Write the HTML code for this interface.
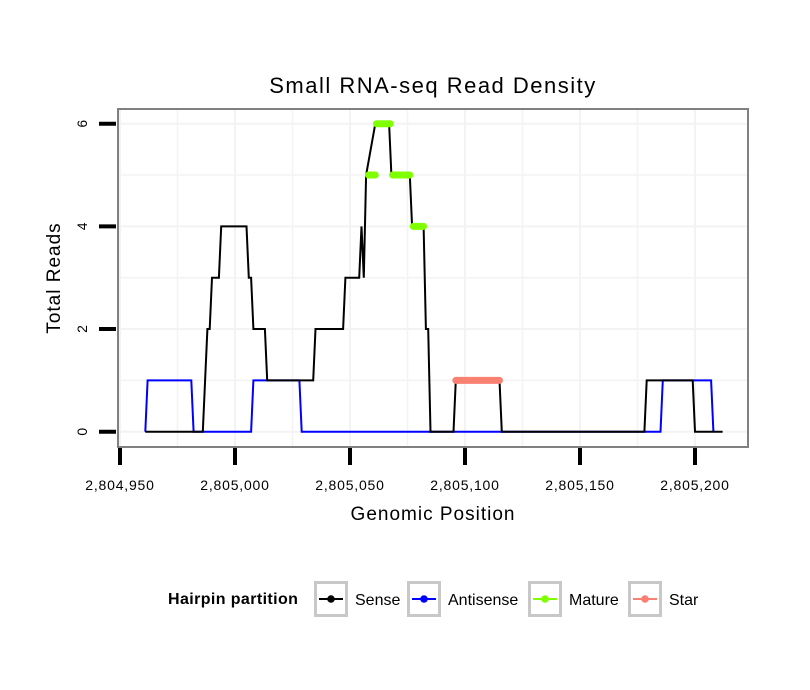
<!DOCTYPE html>
<html><head><meta charset="utf-8"><style>
body{margin:0;background:#fff;}
svg{display:block;font-family:"Liberation Sans",sans-serif;}
</style></head><body>
<svg id="chart" width="810" height="690">
<rect width="810" height="690" fill="#fff"/>
<text x="433" y="93" font-size="22" letter-spacing="1.5" text-anchor="middle">Small RNA-seq Read Density</text>
<g id="grid"></g>
<g id="series"></g>
<rect x="118" y="109" width="630" height="338" fill="none" stroke="#808080" stroke-width="2"/>
<g id="axes"></g>
<text x="433" y="520" font-size="19" letter-spacing="1" text-anchor="middle">Genomic Position</text>
<text transform="translate(60,278) rotate(-90)" font-size="19" letter-spacing="1" text-anchor="middle">Total Reads</text>
<g id="legend"></g>
</svg>
<script>
const senseX=[2804961,2804986,2804988,2804989,2804990,2804993,2804994,2805005,2805006,2805007,2805008,2805013,2805014,2805034,2805035,2805047,2805048,2805054,2805055,2805056,2805057,2805061,2805067,2805068,2805076,2805077,2805082,2805083,2805084,2805085,2805095,2805096,2805115,2805116,2805178,2805179,2805199,2805200,2805212];
const senseY=[0,0,2,2,3,3,4,4,3,3,2,2,1,1,2,2,3,3,4,3,5,6,6,5,5,4,4,2,2,0,0,1,1,0,0,1,1,0,0];
const antiX=[2804961,2804962,2804981,2804982,2805007,2805008,2805028,2805029,2805185,2805186,2805207,2805208];
const antiY=[0,1,1,0,0,1,1,0,0,1,1,0];
const matureStart=[2805060,2805056.5,2805067,2805076];
const matureEnd=[2805069,2805062.5,2805077.5,2805083.5];
const matureY=[6,5,5,4];
const starStart=[2805094.5];
const starEnd=[2805116.5];
const starY=[1];
const xTicks=[2804950,2805000,2805050,2805100,2805150,2805200];
const xTickLabels=["2,804,950","2,805,000","2,805,050","2,805,100","2,805,150","2,805,200"];
const yTicks=[0,2,4,6];
const yTickLabels=["0","2","4","6"];
const legendLabels=["Sense","Antisense","Mature","Star"];
const legendColors=["#000000","#0000ff","#7fff00","#fa8072"];

const NS="http://www.w3.org/2000/svg";
function X(v){return 120+(v-2804950)*2.3;}
function Y(v){return 431.7-v*51.33;}
function mk(tag,attrs,parent){const e=document.createElementNS(NS,tag);for(const k in attrs)e.setAttribute(k,attrs[k]);parent.appendChild(e);return e;}
const grid=document.getElementById('grid'),series=document.getElementById('series'),axes=document.getElementById('axes'),legend=document.getElementById('legend');
for(let v=2804950;v<=2805225;v+=25){const x=X(v);if(x<119||x>747)continue;
 const g=mk('line',{x1:x,x2:x,y1:110,y2:446,stroke:'#f3f3f3','stroke-width':v%50===0?2:1.5},grid);
 
 }
for(let v=0;v<=6;v++){const y=Y(v);
 const g=mk('line',{x1:119,x2:747,y1:y,y2:y,stroke:'#f3f3f3','stroke-width':v%2===0?2:1.5},grid);
 
 }
function pts(xs,ys){return xs.map((x,i)=>X(x)+','+Y(ys[i])).join(' ');}
const anti=mk('polyline',{points:pts(antiX,antiY),fill:'none',stroke:'#0000ff','stroke-width':2},series);


const sense=mk('polyline',{points:pts(senseX,senseY),fill:'none',stroke:'#000','stroke-width':2},series);


matureStart.forEach((s,i)=>{const l=mk('line',{x1:X(s)+3.5,x2:X(matureEnd[i])-3.5,y1:Y(matureY[i]),y2:Y(matureY[i]),stroke:'#7fff00','stroke-width':7,'stroke-linecap':'round'},series);
 
 });
starStart.forEach((s,i)=>{const l=mk('line',{x1:X(s)+3.5,x2:X(starEnd[i])-3.5,y1:Y(starY[i]),y2:Y(starY[i]),stroke:'#fa8072','stroke-width':7,'stroke-linecap':'round'},series);
 
 });
xTicks.forEach((v,i)=>{const x=X(v);
 const t=mk('line',{x1:x,x2:x,y1:448,y2:465,stroke:'#000','stroke-width':4},axes);
 
 
 const l=mk('text',{x:x,y:490,'font-size':14,'letter-spacing':0.8,'text-anchor':'middle'},axes);l.textContent=xTickLabels[i];
 
 });
yTicks.forEach((v,i)=>{const y=Y(v);
 const t=mk('line',{x1:99,x2:116,y1:y,y2:y,stroke:'#000','stroke-width':4},axes);
 
 
 const l=mk('text',{transform:`translate(87,${y}) rotate(-90)`,'font-size':14,'text-anchor':'middle'},axes);l.textContent=yTickLabels[i];
 
 });
const lt=mk('text',{x:168,y:604,'font-size':16,'font-weight':'bold','letter-spacing':0.4},legend);lt.textContent='Hairpin partition';


const boxX=[314,407,528,628];
legendLabels.forEach((lab,i)=>{const bx=boxX[i];
 const g=mk('g',{},legend);
 
 
 mk('rect',{x:bx+1.5,y:582.5,width:31,height:33,fill:'#fff',stroke:'#c8c8c8','stroke-width':3},g);
 mk('line',{x1:bx+5,x2:bx+29,y1:599,y2:599,stroke:legendColors[i],'stroke-width':2},g);
 mk('circle',{cx:bx+17,cy:599,r:3.8,fill:legendColors[i]},g);
 const t=mk('text',{x:bx+41,y:605,'font-size':16},g);t.textContent=lab;});
</script>
</body></html>
